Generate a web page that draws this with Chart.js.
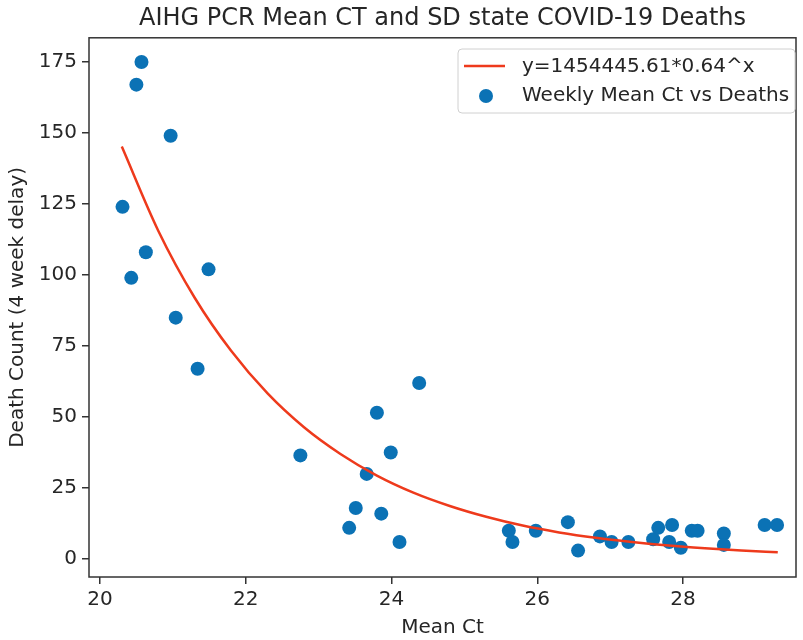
<!DOCTYPE html>
<html>
<head>
<meta charset="utf-8">
<title>AIHG PCR Mean CT and SD state COVID-19 Deaths</title>
<script src="https://cdn.jsdelivr.net/npm/chart.js@4/dist/chart.umd.min.js"></script>
<style>
  html, body { margin: 0; padding: 0; background: #fff; }
  canvas { display: block; }
</style>
</head>
<body>
<canvas id="ctChart" width="803" height="640"></canvas>
<script>
// weekly mean Ct vs deaths (4 week delay)
const meanCt = [20.31, 20.43, 20.50, 20.57, 20.63, 20.97, 21.04, 21.34, 21.49, 22.75,
  23.42, 23.51, 23.66, 23.80, 23.86, 23.99, 24.11, 24.38, 25.61, 25.66,
  25.98, 26.42, 26.56, 26.86, 27.02, 27.25, 27.59, 27.66, 27.81, 27.85,
  27.97, 28.12, 28.20, 28.56, 28.56, 29.12, 29.29]
const deaths = [124, 99, 167, 175, 108, 149, 85, 67, 102, 36.5,
  11, 18, 30, 51.5, 16, 37.5, 6, 62, 10, 6,
  10, 13, 3, 8, 6, 6, 7, 11, 6, 12,
  4, 10, 10, 9, 5, 12, 12]

// fitted curve
const fitCt = [20.3, 20.8, 21.3, 21.8, 22.3, 22.8, 23.3, 23.8, 24.3, 24.8,
  25.3, 25.8, 26.3, 26.8, 27.3, 27.8, 28.3, 28.8, 29.3]
const fitDeaths = [145.2, 115.6, 92.0, 73.3, 58.3, 46.4, 37.0, 29.4, 23.4, 18.7,
  14.9, 11.8, 9.4, 7.5, 6.0, 4.75, 3.8, 3.0, 2.4]

const xTicks = [20, 22, 24, 26, 28]
const yTicks = [0, 25, 50, 75, 100, 125, 150, 175]

const fitLabel = 'y=1454445.61*0.64^x'
const scatterLabel = 'Weekly Mean Ct vs Deaths'

const FONT = "'DejaVu Sans', sans-serif"
const TEXT = '#262626'
const BLUE = '#0b72b5'
const RED = '#ee3a1c'

// box round the plot, like matplotlib spines
const frame = {
  id: 'frame',
  afterDatasetsDraw (chart) {
    const { ctx, chartArea: a } = chart
    ctx.save()
    ctx.strokeStyle = '#333'
    ctx.lineWidth = 1.5
    ctx.strokeRect(a.left, a.top, a.right - a.left, a.bottom - a.top)
    ctx.restore()
  }
}

// legend inside the plot, top right
const boxLegend = {
  id: 'boxLegend',
  afterDraw (chart) {
    const { ctx } = chart
    const x = 458, y = 49, w = 337, h = 64
    ctx.save()
    ctx.beginPath()
    ctx.roundRect(x, y, w, h, 4)
    ctx.fillStyle = 'rgba(255,255,255,0.8)'
    ctx.fill()
    ctx.strokeStyle = '#d0d0d0'
    ctx.lineWidth = 1
    ctx.stroke()

    ctx.strokeStyle = RED
    ctx.lineWidth = 2.5
    ctx.beginPath()
    ctx.moveTo(464, 66)
    ctx.lineTo(505, 66)
    ctx.stroke()

    ctx.fillStyle = BLUE
    ctx.beginPath()
    ctx.arc(486, 96, 7, 0, Math.PI * 2)
    ctx.fill()

    ctx.fillStyle = TEXT
    ctx.font = '20px ' + FONT
    ctx.textBaseline = 'middle'
    ctx.fillText(fitLabel, 522, 67)
    ctx.fillText(scatterLabel, 522, 96)
    ctx.restore()
  }
}

// eslint-disable-next-line no-unused-vars
const ctChart = new Chart(document.getElementById('ctChart'), {
  type: 'scatter',
  data: {
    datasets: [
      {
        type: 'line',
        label: fitLabel,
        data: fitCt.map((v, i) => ({ x: v, y: fitDeaths[i] })),
        borderColor: RED,
        borderWidth: 2.5,
        pointRadius: 0,
        fill: false,
        cubicInterpolationMode: 'monotone'
      },
      {
        label: scatterLabel,
        data: meanCt.map((v, i) => ({ x: v, y: deaths[i] })),
        backgroundColor: BLUE,
        borderWidth: 0,
        pointRadius: 7,
        pointHoverRadius: 7
      }
    ]
  },
  options: {
    responsive: false,
    animation: false,
    layout: { padding: { left: 0, right: 5, top: 0, bottom: 0 } },
    plugins: {
      legend: { display: false },
      tooltip: { enabled: false },
      title: {
        display: true,
        fullSize: false,
        text: 'AIHG PCR Mean CT and SD state COVID-19 Deaths',
        color: TEXT,
        font: { family: FONT, size: 24, weight: 'normal' },
        padding: { top: 4, bottom: 5 }
      }
    },
    scales: {
      x: {
        type: 'linear',
        min: 19.85,
        max: 29.55,
        afterBuildTicks: (scale) => { scale.ticks = xTicks.map(v => ({ value: v })) },
        afterFit: (scale) => { scale.height = 63 },
        border: { display: false },
        grid: { drawOnChartArea: false, drawTicks: true, tickLength: 7, color: '#333', lineWidth: 1.5 },
        ticks: { color: TEXT, font: { family: FONT, size: 20 }, padding: 4, maxRotation: 0 },
        title: { display: true, text: 'Mean Ct', color: TEXT, font: { family: FONT, size: 20 }, padding: { top: 0, bottom: 0 } }
      },
      y: {
        type: 'linear',
        min: -6.3,
        max: 183.5,
        afterBuildTicks: (scale) => { scale.ticks = yTicks.map(v => ({ value: v })) },
        afterFit: (scale) => { scale.width = 89 },
        border: { display: false },
        grid: { drawOnChartArea: false, drawTicks: true, tickLength: 7, color: '#333', lineWidth: 1.5 },
        ticks: { color: TEXT, font: { family: FONT, size: 20 }, padding: 5 },
        title: { display: true, text: 'Death Count (4 week delay)', color: TEXT, font: { family: FONT, size: 20 }, padding: { top: 6, bottom: 0 } }
      }
    }
  },
  plugins: [frame, boxLegend]
})
</script>
</body>
</html>
